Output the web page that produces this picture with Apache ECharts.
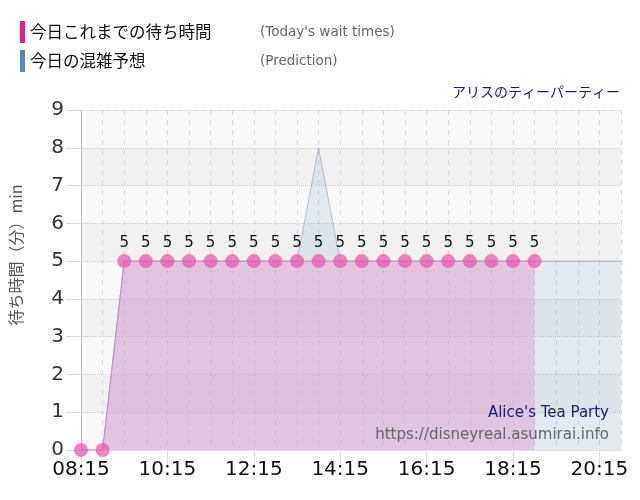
<!DOCTYPE html>
<html lang="ja">
<head>
<meta charset="utf-8" />
<title>アリスのティーパーティー</title>
<script src="https://cdn.jsdelivr.net/npm/echarts@6/dist/echarts.min.js"></script>
<style>
  html, body { margin: 0; padding: 0; background: #fff; }
  #chart { width: 640px; height: 500px; }
</style>
</head>
<body>
<div id="chart"></div>
<script>
// 30分刻みの時刻
var times = ['08:15','08:45','09:15','09:45','10:15','10:45','11:15','11:45','12:15','12:45',
             '13:15','13:45','14:15','14:45','15:15','15:45','16:15','16:45','17:15','17:45',
             '18:15','18:45','19:15','19:45','20:15','20:45'];
// 今日これまでの待ち時間（分）
var actual = [0,0,5,5,5,5,5,5,5,5,5,5,5,5,5,5,5,5,5,5,5,5];
// 今日の混雑予想（分）
var predict = [0,0,5,5,5,5,5,5,5,5,5,8,5,5,5,5,5,5,5,5,5,5,5,5,5,5];

var nameActual = '今日これまでの待ち時間';
var namePredict = '今日の混雑予想';
var subNames = {};
subNames[nameActual] = "(Today's wait times)";
subNames[namePredict] = '(Prediction)';

var chart = echarts.init(document.getElementById('chart'));

var option = {
  animation: false,
  textStyle: { fontFamily: 'DejaVu Sans, Noto Sans CJK JP' },
  title: {
    text: 'アリスのティーパーティー',
    right: 15,
    top: 80,
    textStyle: { fontFamily: 'Noto Sans CJK JP', fontSize: 14, fontWeight: 'normal', color: '#1c1c6e' }
  },
  legend: {
    orient: 'vertical',
    left: 20,
    top: 21,
    padding: 0,
    icon: 'rect',
    itemWidth: 5,
    itemHeight: 22,
    itemGap: 7,
    selectedMode: false,
    data: [
      { name: nameActual, itemStyle: { color: '#f0198c' } },
      { name: namePredict, itemStyle: { color: '#5b87b4' } }
    ],
    formatter: function (name) {
      return '{a|' + name + '}{b|' + subNames[name] + '}';
    },
    textStyle: {
      rich: {
        a: { fontFamily: 'Noto Sans CJK JP', fontSize: 16.5, color: '#111', width: 230 },
        b: { fontFamily: 'DejaVu Sans', fontSize: 13.5, color: '#666' }
      }
    }
  },
  grid: { left: 80, right: 19, top: 110, bottom: 50 },
  xAxis: {
    type: 'category',
    data: times,
    boundaryGap: false,
    axisLine: { show: true, lineStyle: { color: '#e2e2e2' } },
    axisTick: { show: true, interval: 3, length: 15, lineStyle: { color: '#dcdcdc' } },
    axisLabel: { interval: 3, fontSize: 20, color: '#111', margin: 10 },
    splitLine: { show: true, interval: 0, lineStyle: { color: '#d8d8d8', type: [5, 5] } }
  },
  yAxis: {
    type: 'value',
    min: 0,
    max: 9,
    interval: 1,
    name: '待ち時間（分）min',
    nameLocation: 'middle',
    nameRotate: 90,
    nameGap: 57,
    nameTextStyle: { fontFamily: 'Noto Sans CJK JP', fontSize: 16, color: '#555', padding: [0, 0, 0, 50] },
    axisLine: { show: true, lineStyle: { color: '#bdbdbd' } },
    axisTick: { show: true, length: 15, lineStyle: { color: '#dcdcdc' } },
    axisLabel: { fontSize: 20, color: '#333', margin: 17 },
    splitLine: { show: true, lineStyle: { color: '#cfcfcf', type: 'dotted' } },
    splitArea: { show: true, areaStyle: { color: ['#f8f8f8', '#f1f1f1'] } }
  },
  series: [
    {
      name: namePredict,
      type: 'line',
      data: predict,
      symbol: 'none',
      z: 1,
      lineStyle: { color: 'rgba(110,130,150,0.45)', width: 1 },
      areaStyle: { color: 'rgba(70,130,180,0.17)' }
    },
    {
      name: nameActual,
      type: 'line',
      data: actual,
      z: 2,
      symbol: 'circle',
      symbolSize: 14,
      showAllSymbol: true,
      itemStyle: { color: 'rgba(233,85,170,0.72)' },
      lineStyle: { color: 'rgba(185,140,185,0.9)', width: 1 },
      areaStyle: { color: 'rgba(222,160,210,0.72)' },
      label: {
        show: true,
        position: 'top',
        distance: 4,
        fontSize: 15,
        color: '#111',
        formatter: function (p) { return p.value > 0 ? p.value : ''; }
      }
    }
  ],
  graphic: [
    {
      type: 'text',
      right: 31,
      top: 406,
      z: 100,
      style: { text: "Alice's Tea Party", font: '15px "DejaVu Sans"', fill: '#1c1c6e' }
    },
    {
      type: 'text',
      right: 31,
      top: 428,
      z: 100,
      style: { text: 'https://disneyreal.asumirai.info', font: '15px "DejaVu Sans"', fill: '#666' }
    }
  ]
};

chart.setOption(option);
window.onresize = function () { chart.resize(); };
</script>
</body>
</html>
